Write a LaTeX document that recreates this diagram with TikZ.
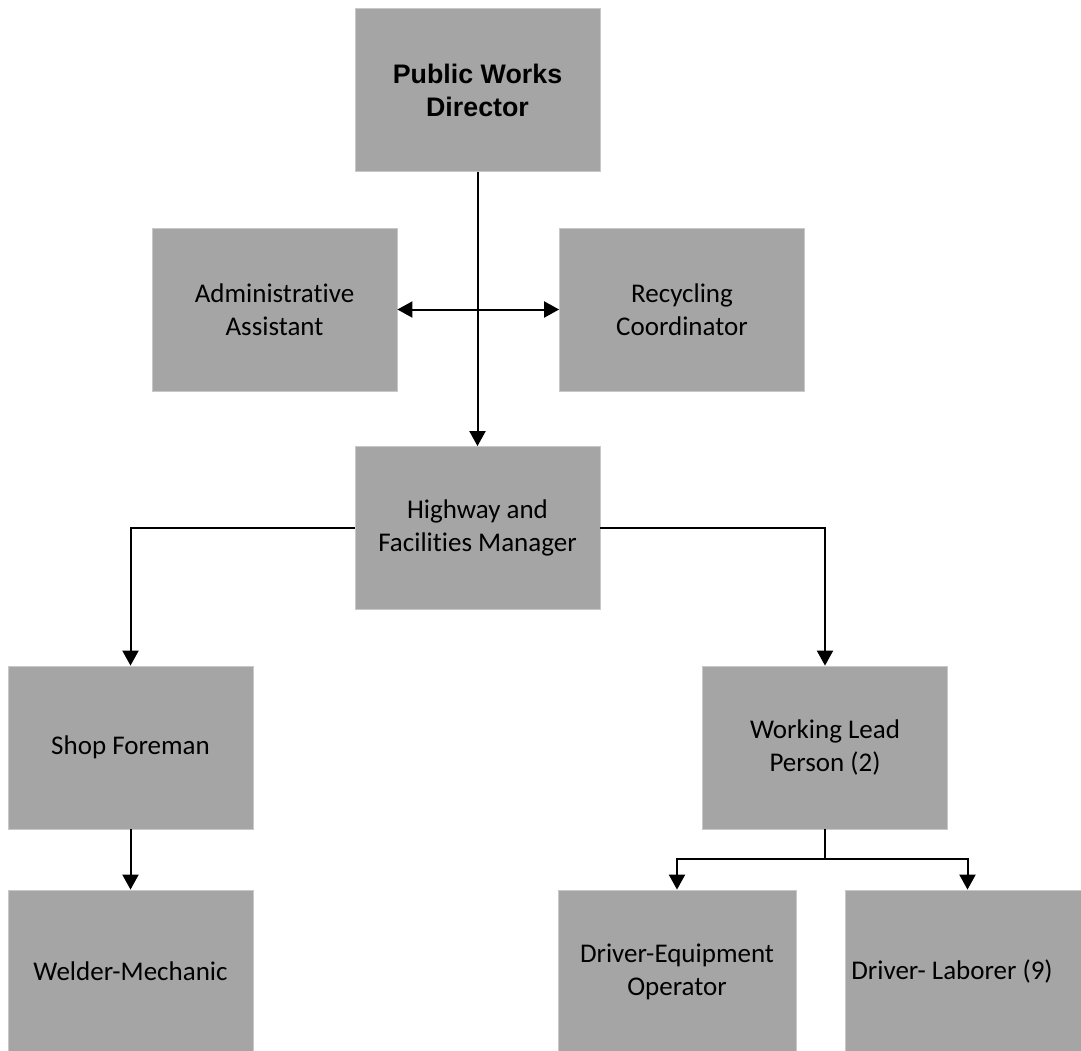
\documentclass[tikz,border=0pt]{standalone}
\usepackage{fontspec}
\setmainfont{Carlito}[Ligatures=NoCommon]
\newfontfamily\headfont{Liberation Sans}
\usetikzlibrary{arrows.meta}
\definecolor{boxgray}{RGB}{165,165,165}
\definecolor{edgegray}{RGB}{200,200,200}

\begin{document}
\begin{tikzpicture}[x=0.5pt, y=-0.5pt,
  orgbox/.style={fill=boxgray, draw=edgegray, line width=0.4pt, inner sep=0pt,
    minimum width=122.5pt, minimum height=81.5pt, align=center,
    font=\fontsize{13.5}{16.5}\selectfont},
  link/.style={line width=1pt},
  arr/.style={link, -{Triangle[length=7.5pt, width=8pt]}}]
  \useasboundingbox (0,0) rectangle (1081,1050);

  \node[orgbox, font=\fontsize{13.4}{16.5}\headfont\bfseries] (director) at (477.5,90) {Public Works\\Director};
  \node[orgbox] (admin) at (274.5,309.5) {Administrative\\Assistant};
  \node[orgbox] (recycling) at (682,309.5) {Recycling\\Coordinator};
  \node[orgbox] (highway) at (477.5,528) {Highway and\\Facilities Manager};

  \node[orgbox] (shop) at (130.5,747.5) {Shop Foreman};
  \node[orgbox] (lead) at (825,747.5) {Working Lead\\Person (2)};

  \node[orgbox] (welder) at (130.5,971.5) {Welder-Mechanic};
  \node[orgbox, minimum width=119pt] (equip) at (677,971.5) {Driver-Equipment\\Operator};
  \node[orgbox] (laborer) at (967.5,971.5) {};
  \node[align=center, font=\fontsize{13.5}{16.5}\selectfont] (labtext) at (952,971.5) {Driver- Laborer (9)};

  % connectors
  \draw[arr] (director) -- (highway);
  \draw[link, {Triangle[length=7.5pt, width=8pt]}-{Triangle[length=7.5pt, width=8pt]}] (admin) -- (recycling);
  \draw[arr] (highway.west) -| (shop.north);
  \draw[arr] (highway.east) -| (lead.north);
  \draw[arr] (shop) -- (welder);

  \coordinate (split) at (825,859);
  \draw[link] (lead) -- (split);
  \draw[arr] (split) -| (equip.north);
  \draw[arr] (split) -| (laborer.north);

\end{tikzpicture}
\end{document}
